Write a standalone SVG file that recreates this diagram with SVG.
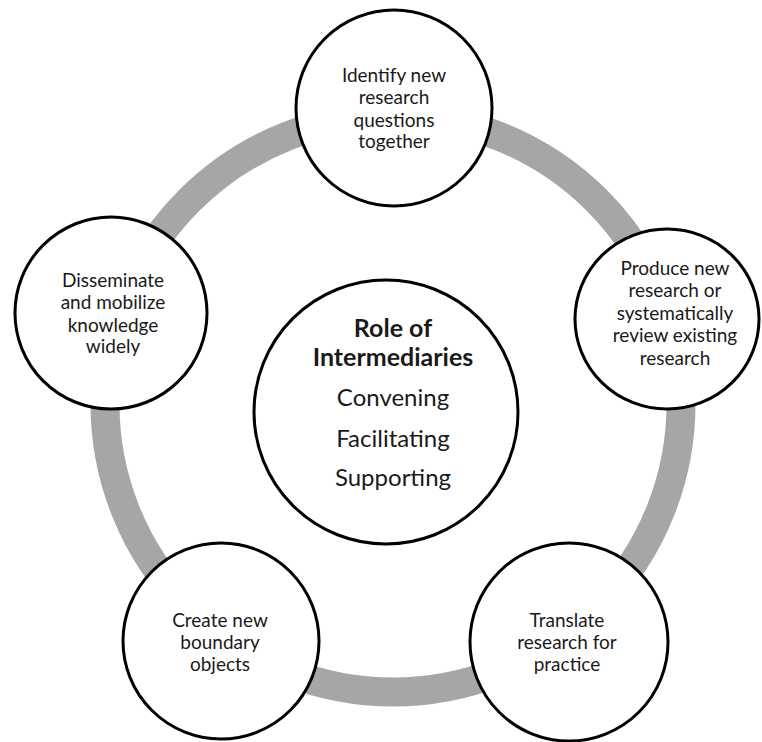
<svg xmlns="http://www.w3.org/2000/svg" width="762" height="742" viewBox="0 0 762 742">
<style>
.node{fill:#fff;stroke:#000;stroke-width:3}
.ring{fill:none;stroke:#a6a6a6;stroke-width:29}
text{font-family:Lato,"Open Sans","Liberation Sans",sans-serif;font-size:19px;fill:#1a1a1a;text-anchor:middle}
.c{font-size:24px}
.b{font-weight:bold;font-size:25px}
</style>
<rect width="762" height="742" fill="#fff"/>
<g id="connectors">
<circle class="ring" cx="393" cy="404" r="288"/>
</g>
<g id="center">
<circle class="node" cx="386" cy="412" r="132"/>
<text class="c b" x="393" y="337">Role of</text>
<text class="c b" x="393" y="366">Intermediaries</text>
<text class="c" x="393" y="406">Convening</text>
<text class="c" x="393" y="447">Facilitating</text>
<text class="c" x="393" y="486">Supporting</text>
</g>
<g id="identify">
<circle class="node" cx="394" cy="108" r="98"/>
<text x="394" y="82">Identify new</text>
<text x="394" y="104">research</text>
<text x="394" y="127">questions</text>
<text x="394" y="148">together</text>
</g>
<g id="produce">
<ellipse class="node" cx="667" cy="319" rx="92" ry="90"/>
<text x="675" y="275">Produce new</text>
<text x="675" y="297">research or</text>
<text x="675" y="320">systematically</text>
<text x="675" y="342">review existing</text>
<text x="675" y="365">research</text>
</g>
<g id="translate">
<circle class="node" cx="569" cy="642" r="99"/>
<text x="567" y="627">Translate</text>
<text x="567" y="649">research for</text>
<text x="567" y="671">practice</text>
</g>
<g id="create">
<circle class="node" cx="221" cy="641" r="98"/>
<text x="220" y="627">Create new</text>
<text x="220" y="649">boundary</text>
<text x="220" y="671">objects</text>
</g>
<g id="disseminate">
<circle class="node" cx="111" cy="313" r="96"/>
<text x="113" y="287">Disseminate</text>
<text x="113" y="309">and mobilize</text>
<text x="113" y="332">knowledge</text>
<text x="113" y="353">widely</text>
</g>
</svg>
